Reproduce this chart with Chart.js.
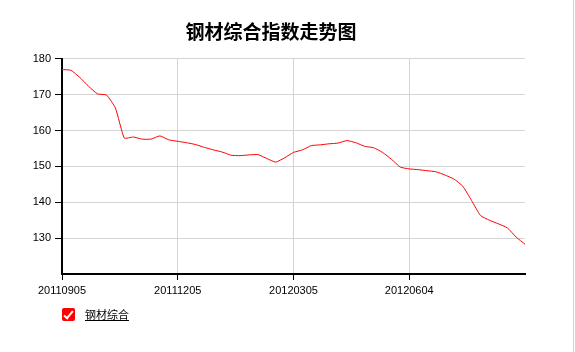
<!DOCTYPE html>
<html>
<head>
<meta charset="utf-8">
<title>钢材综合指数走势图</title>
<script src="https://cdn.jsdelivr.net/npm/chart.js@4/dist/chart.umd.min.js"></script>
<style>
  body { margin: 0; background: #fff; }
  #wrap { position: relative; width: 575px; height: 352px; }
  #legend { position: absolute; left: 62px; top: 308px; height: 14px; font: 11px "Noto Sans CJK SC", sans-serif; color: #000; }
  #legend .box { position: absolute; left: 0; top: 0; width: 13px; height: 13px; background: #f00; border-radius: 2px; }
  #legend .box i { position: absolute; left: 4px; top: 1px; width: 3px; height: 8px; border-right: 2px solid #fff; border-bottom: 2px solid #fff; transform: rotate(40deg); }
  #legend .txt { position: absolute; left: 23px; top: -2px; white-space: nowrap; text-decoration: underline; }
  #edge { position: absolute; left: 573px; top: 0; width: 1px; height: 352px; background: #d0d0d0; }
</style>
</head>
<body>
<div id="wrap">
  <canvas id="indexChart" width="575" height="352"></canvas>
  <div id="legend"><span class="box"><i></i></span><span class="txt">钢材综合</span></div>
  <div id="edge"></div>
</div>
<script>
// weekly dates
var dates = [
  "20110905","20110912","20110919","20110926","20111003","20111010","20111017","20111024","20111031",
  "20111107","20111114","20111121","20111128","20111205","20111212","20111219","20111226",
  "20120102","20120109","20120116","20120123","20120130","20120206","20120213","20120220","20120227",
  "20120305","20120312","20120319","20120326","20120402","20120409","20120416","20120423","20120430",
  "20120507","20120514","20120521","20120528","20120604","20120611","20120618","20120625",
  "20120702","20120709","20120716","20120723","20120730","20120806","20120813","20120820","20120827",
  "20120903"
];

// 钢材综合 index
var steelIndex = [
  177.0, 176.8, 174.8, 172.3, 170.2, 169.9, 166.3, 157.9, 158.2,
  157.6, 157.6, 158.5, 157.4, 157.0, 156.6, 156.1, 155.3,
  154.6, 154.0, 153.1, 153.0, 153.2, 153.3, 152.2, 151.2, 152.4,
  153.9, 154.6, 155.8, 156.0, 156.3, 156.5, 157.2, 156.6, 155.6,
  155.2, 153.9, 152.0, 149.8, 149.3, 149.1, 148.8, 148.5,
  147.6, 146.5, 144.5, 140.5, 136.3, 135.0, 134.0, 132.9, 130.3,
  128.3
];

var labelEvery = 13;
var yMin = 120, yMax = 180, yStep = 10;

var tickFont = { family: "'Liberation Sans', Arial, sans-serif", size: 11 };

function shownTick(i) {
  return i % labelEvery === 0 && i < dates.length - 1;
}

var ctx = document.getElementById("indexChart").getContext('2d');
var indexChart = new Chart(ctx, {
  type: 'line',
  data: {
    labels: dates,
    datasets: [{
      label: "钢材综合",
      data: steelIndex,
      borderColor: "#ff0000",
      borderWidth: 1,
      pointRadius: 0,
      tension: 0.15,
      fill: false
    }]
  },
  options: {
    responsive: false,
    animation: false,
    layout: { padding: { left: 0, right: 33, top: 0, bottom: 0 } },
    plugins: {
      legend: { display: false },
      tooltip: { enabled: false },
      title: {
        display: true,
        text: "钢材综合指数走势图",
        color: "#000",
        font: { family: "'Noto Sans CJK SC', sans-serif", size: 19, weight: 'bold' },
        padding: { top: 20, bottom: 16 }
      }
    },
    scales: {
      x: {
        type: 'category',
        offset: false,
        ticks: {
          autoSkip: false,
          maxRotation: 0,
          minRotation: 0,
          color: "#000",
          font: tickFont,
          padding: 4,
          callback: function (v, i) { return shownTick(i) ? dates[i] : ''; }
        },
        grid: {
          color: function (c) { return (shownTick(c.index) && c.index > 0) ? '#d4d4d4' : 'rgba(0,0,0,0)'; },
          tickColor: function (c) { return shownTick(c.index) ? '#000' : 'rgba(0,0,0,0)'; },
          tickLength: 6,
          lineWidth: 1
        },
        border: { color: "#000", width: 2 },
        afterFit: function (s) { s.height = 78; }
      },
      y: {
        min: yMin,
        max: yMax,
        ticks: {
          stepSize: yStep,
          color: "#000",
          font: tickFont,
          padding: 4,
          callback: function (v) { return v === yMin ? '' : v; }
        },
        grid: {
          color: function (c) { return c.tick.value === yMin ? 'rgba(0,0,0,0)' : '#d4d4d4'; },
          tickColor: function (c) { return c.tick.value === yMin ? 'rgba(0,0,0,0)' : '#000'; },
          tickLength: 7,
          lineWidth: 1
        },
        border: { color: "#000", width: 2 },
        afterFit: function (s) { s.width = 62; }
      },
      yRight: {
        position: 'right',
        display: true,
        grid: { display: false, drawTicks: false },
        ticks: { display: false },
        border: { display: false },
        afterFit: function (s) { s.width = 17; }
      }
    }
  }
});
</script>
</body>
</html>
